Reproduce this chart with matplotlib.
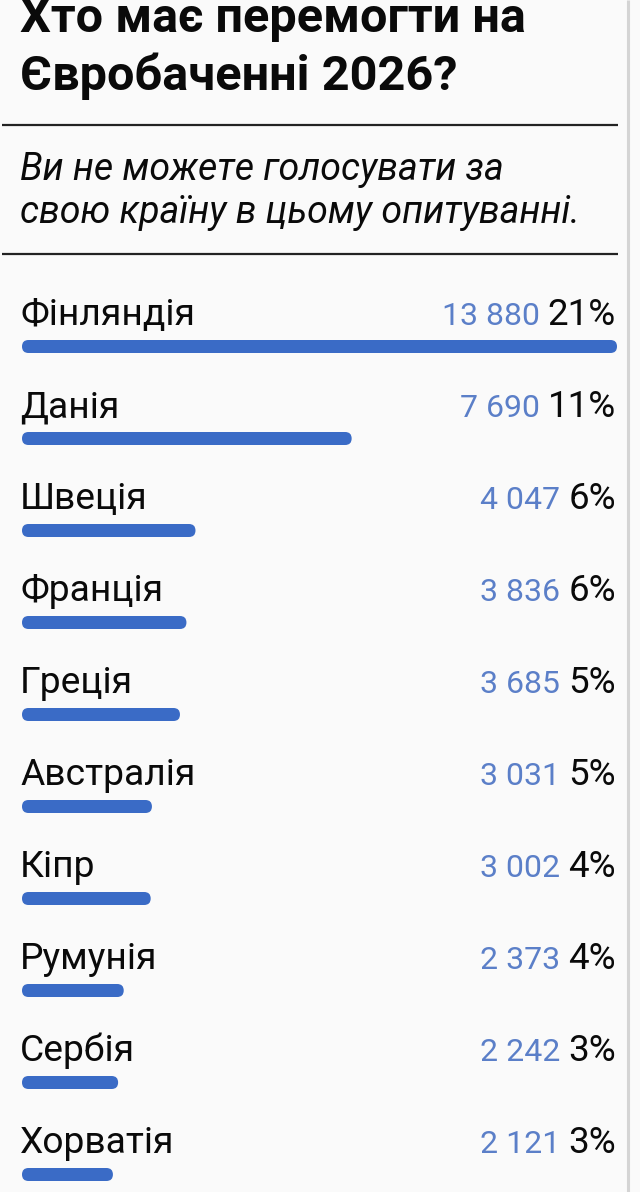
import matplotlib
matplotlib.use("Agg")
import matplotlib.pyplot as plt
from matplotlib.patches import FancyBboxPatch

# ---- data ----
title_lines = ["Хто має перемогти на", "Євробаченні 2026?"]
subtitle_lines = ["Ви не можете голосувати за", "свою країну в цьому опитуванні."]
countries = ["Фінляндія", "Данія", "Швеція", "Франція", "Греція",
             "Австралія", "Кіпр", "Румунія", "Сербія", "Хорватія"]
votes = [13880, 7690, 4047, 3836, 3685, 3031, 3002, 2373, 2242, 2121]
percents = [21, 11, 6, 6, 5, 5, 4, 4, 3, 3]

# ---- style ----
W, H = 640, 1192
BG = "#fafafa"
BAR = "#3a6bc6"
NUM = "#5b7fc8"
FONT = "Roboto"

fig = plt.figure(figsize=(W / 100, H / 100), dpi=100, facecolor=BG)
ax = fig.add_axes([0, 0, 1, 1])
ax.set_xlim(0, W)
ax.set_ylim(H, 0)
ax.axis("off")
ax.set_facecolor(BG)

# right border line
ax.plot([628, 628], [0, H], color="#d4d4d4", lw=2.2, solid_capstyle="butt")

# title
for i, t in enumerate(title_lines):
    ax.text(20, 32 + i * 58.5, t, fontsize=35, fontweight="bold",
            family=FONT, color="#0a0a0a", va="baseline", ha="left")

# separators
for y in (125, 254):
    ax.plot([2, 618], [y, y], color="#222222", lw=1.6, solid_capstyle="butt")

# subtitle
for i, t in enumerate(subtitle_lines):
    ax.text(20, 180 + i * 43, t, fontsize=27, fontstyle="italic",
            family=FONT, color="#0a0a0a", va="baseline", ha="left")

# bars axis: x in vote units, spanning the bar track
bx0, bx1 = 22, 617
axb = fig.add_axes([bx0 / W, 0, (bx1 - bx0) / W, 1])
axb.set_xlim(0, max(votes))
axb.set_ylim(H, 0)
axb.axis("off")
axb.patch.set_alpha(0)

fig.canvas.draw()
renderer = fig.canvas.get_renderer()
to_px = ax.transData.inverted()

row0, step = 325, 92
bar_h = 13
for i, (c, v, p) in enumerate(zip(countries, votes, percents)):
    base = row0 + i * step
    ax.text(20, base, c, fontsize=26.8, family=FONT, color="#0a0a0a",
            va="baseline", ha="left")
    pt = ax.text(616, base, f"{p}%", fontsize=26.5, family=FONT,
                 color="#0a0a0a", va="baseline", ha="right")
    bb = pt.get_window_extent(renderer=renderer)
    left_px = to_px.transform((bb.x0, bb.y0))[0]
    ax.text(left_px - 8, base, f"{v:,}".replace(",", " "), fontsize=23,
            family=FONT, color=NUM, va="baseline", ha="right")
    ybar = base + 21.5
    # bar extent via the bar axis' vote scale
    xs = to_px.transform(axb.transData.transform([(0, ybar), (v, ybar)]))
    xa, xb_ = xs[0][0], xs[1][0]
    ax.add_patch(FancyBboxPatch((xa, ybar - bar_h / 2), xb_ - xa, bar_h,
                                boxstyle=f"round,pad=0,rounding_size={bar_h/2}",
                                facecolor=BAR, edgecolor="none"))

fig.savefig("out.png", dpi=100, facecolor=BG)
